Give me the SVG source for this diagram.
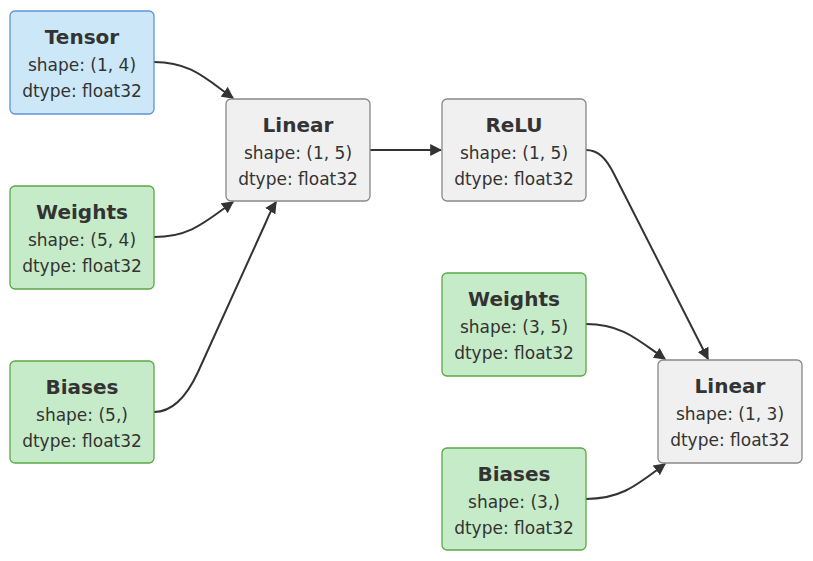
<svg xmlns="http://www.w3.org/2000/svg" width="813" height="561" viewBox="0 0 813 561">
<style>
.box{stroke-width:1.3}
.blue{fill:#cce8f8;stroke:#5f92d6}
.green{fill:#c6ebc9;stroke:#5aa846}
.grey{fill:#f0f0f0;stroke:#888888}
text{font-family:"DejaVu Sans","Noto Sans",sans-serif;fill:#333333;text-anchor:middle}
.t{font-size:20px;font-weight:bold}
.s{font-size:17px}
.edge{fill:none;stroke:#333333;stroke-width:2;marker-end:url(#arr)}
</style>
<defs>
<marker id="arr" viewBox="0 0 10 10" refX="9" refY="5" markerWidth="6" markerHeight="6" orient="auto" markerUnits="strokeWidth">
<path d="M0,0 L10,5 L0,10 z" fill="#333333"/>
</marker>
</defs>
<g id="connectors">
<path class="edge" d="M154,62 C190,62 205,78 233,98"/>
<path class="edge" d="M154,237 C190,237 205,222 233,202"/>
<path class="edge" d="M154,412 C172,412 186,398 198,372 L266,222 Q271,210 276,202"/>
<path class="edge" d="M370,150 L441,150"/>
<path class="edge" d="M586,150 C598,150 606,158 614,174 L708,359"/>
<path class="edge" d="M586,324 C622,324 638,340 665,359"/>
<path class="edge" d="M586,499 C622,499 638,484 665,464"/>
</g>
<g id="tensor">
<rect class="box blue" x="10" y="11" width="144" height="103" rx="5"/>
<text class="t" x="82" y="44">Tensor</text>
<text class="s" x="82" y="71">shape: (1, 4)</text>
<text class="s" x="82" y="97">dtype: float32</text>
</g>
<g id="weights1">
<rect class="box green" x="10" y="186" width="144" height="103" rx="5"/>
<text class="t" x="82" y="219">Weights</text>
<text class="s" x="82" y="246">shape: (5, 4)</text>
<text class="s" x="82" y="272">dtype: float32</text>
</g>
<g id="biases1">
<rect class="box green" x="10" y="361" width="144" height="102" rx="5"/>
<text class="t" x="82" y="394">Biases</text>
<text class="s" x="82" y="421">shape: (5,)</text>
<text class="s" x="82" y="447">dtype: float32</text>
</g>
<g id="linear1">
<rect class="box grey" x="226" y="99" width="144" height="102" rx="5"/>
<text class="t" x="298" y="132">Linear</text>
<text class="s" x="298" y="159">shape: (1, 5)</text>
<text class="s" x="298" y="185">dtype: float32</text>
</g>
<g id="relu">
<rect class="box grey" x="442" y="99" width="144" height="102" rx="5"/>
<text class="t" x="514" y="132">ReLU</text>
<text class="s" x="514" y="159">shape: (1, 5)</text>
<text class="s" x="514" y="185">dtype: float32</text>
</g>
<g id="weights2">
<rect class="box green" x="442" y="273" width="144" height="103" rx="5"/>
<text class="t" x="514" y="306">Weights</text>
<text class="s" x="514" y="333">shape: (3, 5)</text>
<text class="s" x="514" y="359">dtype: float32</text>
</g>
<g id="linear2">
<rect class="box grey" x="658" y="360" width="144" height="103" rx="5"/>
<text class="t" x="730" y="393">Linear</text>
<text class="s" x="730" y="420">shape: (1, 3)</text>
<text class="s" x="730" y="446">dtype: float32</text>
</g>
<g id="biases2">
<rect class="box green" x="442" y="448" width="144" height="102" rx="5"/>
<text class="t" x="514" y="481">Biases</text>
<text class="s" x="514" y="508">shape: (3,)</text>
<text class="s" x="514" y="534">dtype: float32</text>
</g>
</svg>
